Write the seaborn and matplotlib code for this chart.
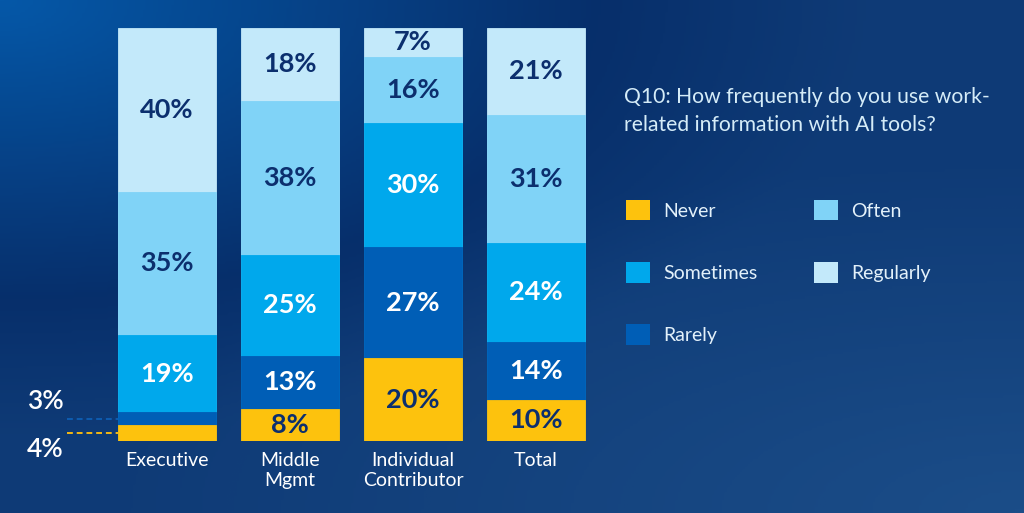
import numpy as np
import pandas as pd
import seaborn as sns
import matplotlib.pyplot as plt
from matplotlib.colors import LinearSegmentedColormap
from matplotlib.patches import Patch

groups = ["Executive", "Middle\nMgmt", "Individual\nContributor", "Total"]
levels = ["Never", "Rarely", "Sometimes", "Often", "Regularly"]
never = [4, 8, 20, 10]
rarely = [3, 13, 27, 14]
sometimes = [19, 25, 30, 24]
often = [35, 38, 16, 31]
regularly = [40, 18, 7, 21]

colors = {
    "Never": "#FDC20D",
    "Rarely": "#005EB6",
    "Sometimes": "#00A8EC",
    "Often": "#80D3F7",
    "Regularly": "#C3E9FA",
}
label_colors = {
    "Never": "#0C2F6E",
    "Rarely": "white",
    "Sometimes": "white",
    "Often": "#0C2F6E",
    "Regularly": "#0C2F6E",
}
question = "Q10: How frequently do you use work-\nrelated information with AI tools?"

sns.set_theme(style="white")
plt.rcParams["font.family"] = ["Lato", "DejaVu Sans"]

df = pd.DataFrame({"group": groups, "Never": never, "Rarely": rarely,
                   "Sometimes": sometimes, "Often": often, "Regularly": regularly})
totals = df[levels].sum(axis=1)
share = df[levels].div(totals, axis=0)
cum = share.cumsum(axis=1)

fig = plt.figure(figsize=(10.24, 5.13), dpi=100)

# background gradient
bg = fig.add_axes([0, 0, 1, 1], zorder=0)
yy, xx = np.mgrid[0:1:200j, 0:1:400j]
d_tl = np.sqrt((xx * 1.0) ** 2 + (yy * 1.0) ** 2)
d_br = np.sqrt(((1 - xx) * 1.0) ** 2 + ((1 - yy) * 1.3) ** 2)
val = np.clip(1 - d_tl / 0.85, 0, 1) ** 1.1 - np.clip(1 - d_br / 0.9, 0, 1) * 0.45
cmap = LinearSegmentedColormap.from_list("bg", ["#1B4D88", "#072F6B", "#0558A8"])
bg.imshow(val, cmap=cmap, vmin=-0.45, vmax=1.0, aspect="auto", extent=[0, 1, 0, 1], origin="upper")
bg.axis("off")

ax = fig.add_axes([105.5 / 1024, 72 / 513, 492 / 1024, 413 / 513], zorder=1)
ax.patch.set_alpha(0)

# overlapping cumulative bars, top level first
for lev in reversed(levels):
    sns.barplot(x=df["group"], y=cum[lev], color=colors[lev], width=0.8,
                saturation=1, edgecolor=colors[lev], linewidth=0.6, ax=ax)

ax.set_xlim(-0.5, 3.5)
ax.set_ylim(0, 1)
ax.set_xlabel("")
ax.set_ylabel("")
ax.set_yticks([])
ax.tick_params(axis="x", length=0, pad=8, labelsize=14, labelcolor="white")
sns.despine(ax=ax, left=True, bottom=True)

for i in range(len(groups)):
    for lev in levels:
        s = share.loc[i, lev]
        center = cum.loc[i, lev] - s / 2
        if i == 0 and lev in ("Never", "Rarely"):
            continue
        ax.text(i, center, f"{df.loc[i, lev]}%", ha="center", va="center",
                fontsize=19.5, fontweight="bold", color=label_colors[lev])

# small executive segments labelled outside
x_end = -0.81
for lev, dy, dash_col in [("Rarely", 12, "#0E5CB0"), ("Never", -12, "#F5B914")]:
    center = cum.loc[0, lev] - share.loc[0, lev] / 2
    ax.plot([x_end, -0.4], [center, center], ls=(0, (3, 2)), lw=1.4,
            color=dash_col, clip_on=False)
    ax.annotate(f"{df.loc[0, lev]}%", xy=(-0.99, center), xytext=(0, dy),
                textcoords="offset points", ha="center", va="center",
                fontsize=19, fontweight="semibold", color="white", annotation_clip=False)

fig.text(624 / 1024, 1 - 111 / 513, question, ha="left", va="center",
         fontsize=15.2, color="#D5ECF8", linespacing=1.5)

handles = [Patch(facecolor=colors[lev], edgecolor="none", label=lev)
           for lev in ["Never", "Sometimes", "Rarely", "Often", "Regularly"]]
fig.legend(handles=handles, loc="upper left", bbox_to_anchor=(626 / 1024, 1 - 200 / 513),
           ncol=2, frameon=False, fontsize=14, labelcolor="#E3F1FA",
           handlelength=1.24, handleheight=1.24, handletextpad=0.67,
           labelspacing=2.15, columnspacing=2.9, borderpad=0, borderaxespad=0)

fig.savefig("out.png", dpi=100)
